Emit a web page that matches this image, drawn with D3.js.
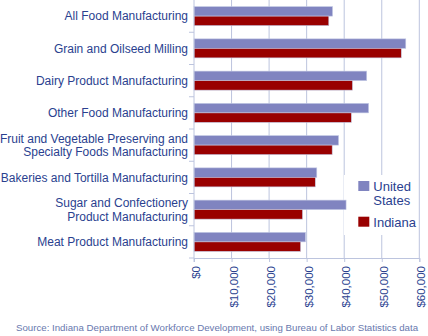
<!DOCTYPE html>
<html>
<head>
<meta charset="utf-8">
<script src="https://cdn.jsdelivr.net/npm/d3@7/dist/d3.min.js"></script>
<style>
  html, body { margin: 0; padding: 0; background: #fff; }
  svg { display: block; font-family: "Liberation Sans", Arial, Helvetica, sans-serif; }
</style>
</head>
<body>
<svg id="chart" width="428" height="336"></svg>
<script>
// Average annual wages by food manufacturing subsector
const categories = [
  "All Food Manufacturing",
  "Grain and Oilseed Milling",
  "Dairy Product Manufacturing",
  "Other Food Manufacturing",
  "Fruit and Vegetable Preserving and\nSpecialty Foods Manufacturing",
  "Bakeries and Tortilla Manufacturing",
  "Sugar and Confectionery\nProduct Manufacturing",
  "Meat Product Manufacturing"
];
const seriesNames = ["United States", "Indiana"];
const usValues = [36900, 56400, 46000, 46500, 38500, 32700, 40500, 29700];
const inValues = [35900, 55200, 42200, 41900, 36800, 32300, 28900, 28400];
const xTicks = [0, 10000, 20000, 30000, 40000, 50000, 60000];
const sourceText = "Source: Indiana Department of Workforce Development, using Bureau of Labor Statistics data";

const colors = { "United States": "#8084c0", "Indiana": "#990000" };
const textColor = "#2a3f8f";
const gridColor = "#bcc4de";

const svg = d3.select("#chart");

const x = d3.scaleLinear().domain([0, 60000]).range([194, 419.3]);
// full-height category bands (used for axis ticks and labels)
const bandAll = d3.scaleBand().domain(categories).range([0, 258]);
// padded bands holding each pair of bars
const y = d3.scaleBand().domain(categories).range([0, 258]).paddingInner(0.41).paddingOuter(0.205);
const ySub = d3.scaleBand().domain(seriesNames).range([0, y.bandwidth()]);

const rows = categories.map((c, i) => ({
  cat: c,
  vals: [
    { name: "United States", v: usValues[i] },
    { name: "Indiana", v: inValues[i] }
  ]
}));

// vertical gridlines
svg.append("g")
  .selectAll("line")
  .data(xTicks.slice(1))
  .join("line")
  .attr("x1", d => x(d)).attr("x2", d => x(d))
  .attr("y1", 0).attr("y2", 258)
  .attr("stroke", gridColor).attr("stroke-width", 1);

// legend background
const legend = svg.append("g");
legend.append("rect")
  .attr("x", 344).attr("y", 175).attr("width", 72).attr("height", 60)
  .attr("fill", "#fff");

// bars
const groups = svg.append("g")
  .selectAll("g")
  .data(rows)
  .join("g")
  .attr("transform", d => `translate(0,${y(d.cat)})`);

groups.selectAll("rect")
  .data(d => d.vals)
  .join("rect")
  .attr("x", x(0))
  .attr("y", d => ySub(d.name))
  .attr("width", d => x(d.v) - x(0))
  .attr("height", ySub.bandwidth())
  .attr("fill", d => colors[d.name])
  .attr("stroke", "#c4cae4")
  .attr("stroke-width", 0.6);

// left axis line with ticks between categories
const leftAxis = svg.append("g");
leftAxis.append("line")
  .attr("x1", x(0)).attr("x2", x(0)).attr("y1", 0).attr("y2", 262)
  .attr("stroke", gridColor);
leftAxis.selectAll("line.tick")
  .data(categories.slice(1).map(c => bandAll(c)).concat([258]))
  .join("line")
  .attr("class", "tick")
  .attr("x1", x(0) - 5).attr("x2", x(0))
  .attr("y1", d => d).attr("y2", d => d)
  .attr("stroke", gridColor);

// category labels
svg.append("g")
  .selectAll("text")
  .data(categories)
  .join("text")
  .attr("text-anchor", "end")
  .attr("fill", textColor)
  .attr("font-size", 12)
  .each(function (d) {
    const lines = d.split("\n");
    const cy = bandAll(d) + bandAll.bandwidth() / 2;
    const t = d3.select(this);
    lines.forEach((ln, i) => {
      t.append("tspan")
        .attr("x", 188)
        .attr("y", cy + 4.3 + (i - (lines.length - 1) / 2) * 13.4)
        .text(ln);
    });
  });

// bottom axis
const xAxis = d3.axisBottom(x).tickValues(xTicks).tickSize(4)
  .tickFormat(d => "$" + d3.format(",")(d));
const xg = svg.append("g").attr("transform", "translate(0,258)").call(xAxis);
xg.select(".domain").attr("stroke", gridColor);
xg.selectAll(".tick line").attr("stroke", gridColor);
xg.selectAll(".tick text")
  .attr("fill", textColor)
  .attr("font-size", 11.5)
  .attr("font-family", "Liberation Sans, Arial, sans-serif")
  .attr("text-anchor", "end")
  .attr("transform", "rotate(-90)")
  .attr("x", -8)
  .attr("y", 2)
  .attr("dy", "0.32em");

// legend
const legendItems = [
  { name: "United States", lines: ["United", "States"], y: 181 },
  { name: "Indiana", lines: ["Indiana"], y: 216.7 }
];
legendItems.forEach(it => {
  legend.append("rect")
    .attr("x", 358.3).attr("y", it.y).attr("width", 11).attr("height", 10)
    .attr("fill", colors[it.name]);
  const t = legend.append("text")
    .attr("fill", textColor).attr("font-size", 13);
  it.lines.forEach((ln, i) => {
    t.append("tspan").attr("x", 373.3).attr("y", it.y + 10 + i * 13.5).text(ln);
  });
});

// source note
svg.append("text")
  .attr("x", 217).attr("y", 331)
  .attr("text-anchor", "middle")
  .attr("fill", "#6878ae")
  .attr("font-size", 9.7)
  .text(sourceText);
</script>
</body>
</html>
